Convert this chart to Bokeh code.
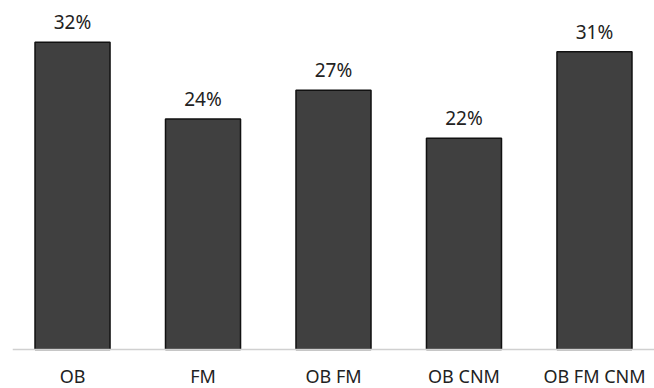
from bokeh.plotting import figure
from bokeh.models import ColumnDataSource, Range1d, LabelSet, Span
from bokeh.core.properties import value
from bokeh.embed import file_html
from bokeh.resources import INLINE

categories = ["OB", "FM", "OB FM", "OB CNM", "OB FM CNM"]
values = [32, 24, 27, 22, 31]
value_labels = ["32%", "24%", "27%", "22%", "31%"]

xs = list(range(len(categories)))
src = ColumnDataSource(dict(x=xs, top=values, lbl=value_labels,
                            cat=categories, base=[0] * len(categories)))

p = figure(width=654, height=388, output_backend="svg", toolbar_location=None,
           x_range=Range1d(-0.46, 4.46), y_range=Range1d(-4.06, 36.35),
           min_border_left=12, min_border_right=0, min_border_top=0, min_border_bottom=0)

p.vbar(x="x", top="top", bottom=0, width=0.575, source=src,
       fill_color="#404040", line_color="#111111", line_width=1.5)

p.add_layout(Span(location=0, dimension="width", line_color="#d0d0d0", line_width=1.5))

labels = LabelSet(x="x", y="top", text="lbl", source=src, y_offset=7,
                  text_align="center", text_baseline="bottom",
                  text_font=value("Noto Sans"), text_font_size="19px", text_color="#222222")
p.add_layout(labels)

cat_labels = LabelSet(x="x", y="base", text="cat", source=src, y_offset=-26,
                      text_align="center", text_baseline="middle",
                      text_font=value("Noto Sans"), text_font_size="18px", text_color="#222222")
p.add_layout(cat_labels)

p.xaxis.visible = False
p.yaxis.visible = False
p.xgrid.visible = False
p.ygrid.visible = False
p.outline_line_color = None
p.background_fill_color = "white"
p.border_fill_color = "white"

open("out.html", "w").write(file_html(p, INLINE))
